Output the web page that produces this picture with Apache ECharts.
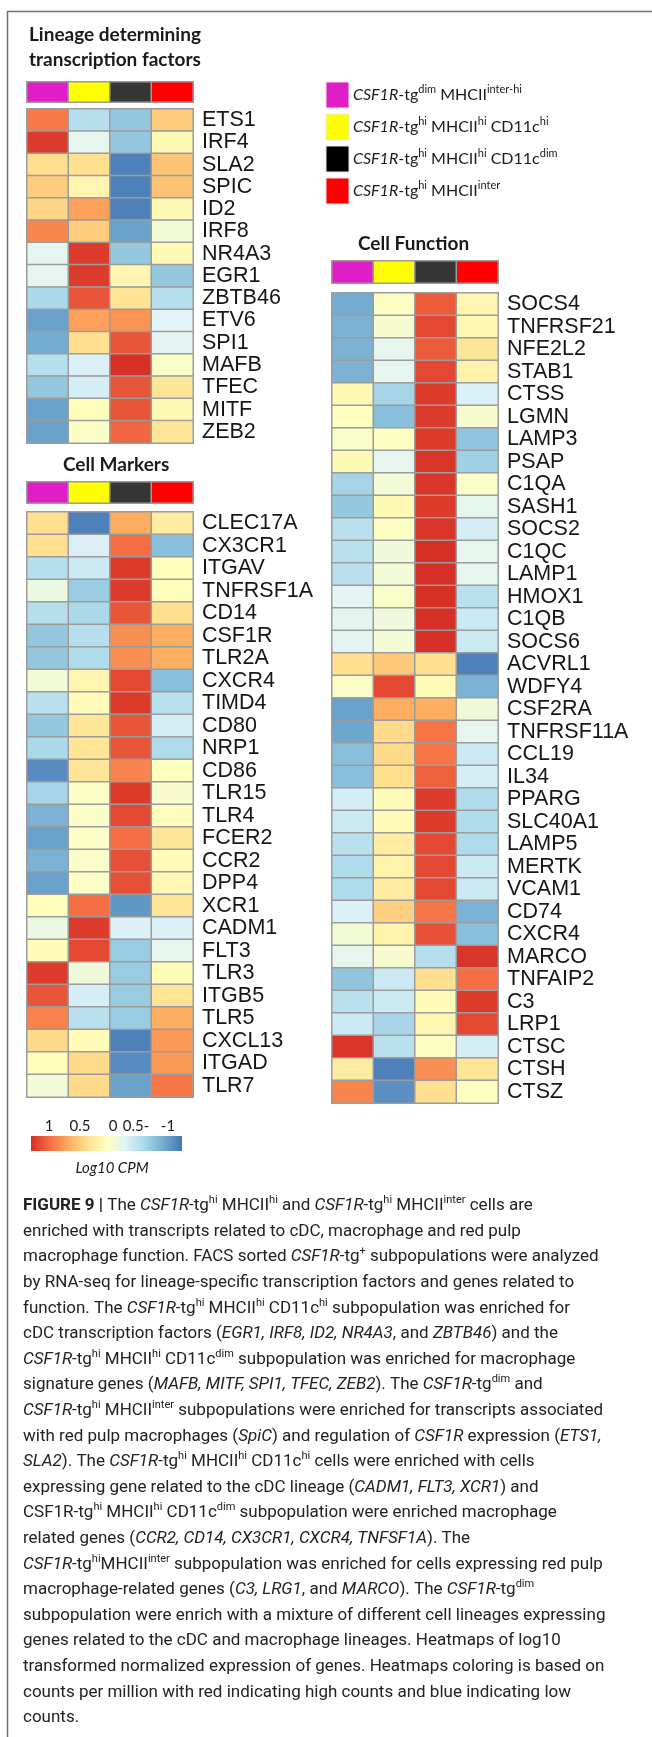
<!DOCTYPE html>
<html><head><meta charset="utf-8">
<script src="https://cdn.jsdelivr.net/npm/echarts@6/dist/echarts.min.js"></script>
<style>html,body{margin:0;padding:0;background:#fff}#c{width:652px;height:1737px}</style>
</head><body><div id="c"></div><script>
// ---------- DATA ----------
const groups = ['CSF1R-tg dim MHCII inter-hi', 'CSF1R-tg hi MHCII hi CD11c hi', 'CSF1R-tg hi MHCII hi CD11c dim', 'CSF1R-tg hi MHCII inter'];
const groupLabels = ['*CSF1R*-tg^dim^ MHCII^inter-hi^', '*CSF1R*-tg^hi^ MHCII^hi^ CD11c^hi^', '*CSF1R*-tg^hi^ MHCII^hi^ CD11c^dim^', '*CSF1R*-tg^hi^ MHCII^inter^'];

const lineageGenes = ['ETS1','IRF4','SLA2','SPIC','ID2','IRF8','NR4A3','EGR1','ZBTB46','ETV6','SPI1','MAFB','TFEC','MITF','ZEB2'];
const lineageValues = [
  [0.70,-0.45,-0.60,0.35],
  [0.95,-0.20,-0.60,0.05],
  [0.25,0.25,-0.95,0.40],
  [0.35,0.08,-0.95,0.40],
  [0.30,0.55,-0.95,0.05],
  [0.65,0.35,-0.80,-0.10],
  [-0.20,0.95,-0.60,0.05],
  [-0.20,0.95,0.08,-0.60],
  [-0.50,0.85,0.22,-0.45],
  [-0.80,0.55,0.60,-0.25],
  [-0.75,0.25,0.85,-0.22],
  [-0.45,-0.28,1.00,-0.05],
  [-0.60,-0.30,0.85,0.20],
  [-0.80,0.02,0.85,0.05],
  [-0.80,-0.03,0.78,0.20]
];

const markerGenes = ['CLEC17A','CX3CR1','ITGAV','TNFRSF1A','CD14','CSF1R','TLR2A','CXCR4','TIMD4','CD80','NRP1','CD86','TLR15','TLR4','FCER2','CCR2','DPP4','XCR1','CADM1','FLT3','TLR3','ITGB5','TLR5','CXCL13','ITGAD','TLR7'];
const markerValues = [
  [0.25,-0.95,0.50,0.15],
  [0.25,-0.28,0.75,-0.65],
  [-0.45,-0.35,0.95,0.02],
  [-0.15,-0.58,0.95,0.02],
  [-0.45,-0.50,0.85,0.25],
  [-0.60,-0.45,0.62,0.50],
  [-0.60,-0.48,0.62,0.50],
  [-0.10,0.08,0.90,-0.65],
  [-0.43,0.03,0.95,-0.43],
  [-0.60,0.20,0.85,-0.30],
  [-0.50,0.22,0.85,-0.48],
  [-0.90,0.22,0.66,0.00],
  [-0.52,-0.03,0.95,-0.07],
  [-0.72,-0.03,0.90,0.02],
  [-0.80,-0.03,0.75,0.20],
  [-0.72,-0.05,0.87,0.03],
  [-0.80,-0.03,0.87,0.06],
  [0.02,0.75,-0.85,0.20],
  [-0.15,0.95,-0.27,-0.27],
  [0.03,0.90,-0.58,-0.20],
  [0.95,-0.12,-0.58,0.03],
  [0.85,-0.30,-0.58,0.22],
  [0.67,-0.43,-0.58,0.50],
  [0.28,0.03,-0.95,0.58],
  [0.02,0.28,-0.90,0.58],
  [-0.10,0.28,-0.80,0.72]
];

const functionGenes = ['SOCS4','TNFRSF21','NFE2L2','STAB1','CTSS','LGMN','LAMP3','PSAP','C1QA','SASH1','SOCS2','C1QC','LAMP1','HMOX1','C1QB','SOCS6','ACVRL1','WDFY4','CSF2RA','TNFRSF11A','CCL19','IL34','PPARG','SLC40A1','LAMP5','MERTK','VCAM1','CD74','CXCR4','MARCO','TNFAIP2','C3','LRP1','CTSC','CTSH','CTSZ'];
const functionValues = [
  [-0.75,-0.02,0.82,0.08],
  [-0.72,-0.07,0.90,0.06],
  [-0.72,-0.20,0.82,0.20],
  [-0.72,-0.20,0.90,0.10],
  [0.05,-0.52,0.95,-0.27],
  [0.00,-0.65,0.95,-0.07],
  [-0.05,-0.02,0.95,-0.62],
  [0.05,-0.20,0.98,-0.55],
  [-0.52,-0.10,0.98,-0.04],
  [-0.60,0.05,0.95,-0.20],
  [-0.43,-0.02,0.98,-0.30],
  [-0.43,-0.12,1.00,-0.20],
  [-0.43,-0.10,1.00,-0.20],
  [-0.22,-0.05,1.00,-0.43],
  [-0.22,-0.13,1.00,-0.35],
  [-0.22,-0.10,1.00,-0.35],
  [0.25,0.37,0.25,-0.95],
  [-0.05,0.90,0.03,-0.72],
  [-0.80,0.50,0.50,-0.12],
  [-0.78,0.28,0.72,-0.20],
  [-0.65,0.28,0.72,-0.35],
  [-0.65,0.25,0.80,-0.30],
  [-0.30,0.03,0.95,-0.48],
  [-0.35,0.03,0.95,-0.48],
  [-0.43,0.15,0.90,-0.48],
  [-0.48,0.10,0.90,-0.35],
  [-0.48,0.15,0.90,-0.35],
  [-0.27,0.33,0.72,-0.72],
  [-0.10,0.10,0.87,-0.65],
  [-0.20,-0.07,-0.45,0.98],
  [-0.62,-0.35,0.25,0.75],
  [-0.43,-0.35,0.03,0.95],
  [-0.35,-0.52,0.08,0.90],
  [0.98,-0.43,-0.02,-0.30],
  [0.15,-0.95,0.62,0.20],
  [0.66,-0.88,0.25,0.00]
];

const scaleTicks = ['1','0.5','0','0.5-','-1'];
const scaleTitle = 'Log10 CPM';
const panelTitles = ['Lineage determining\ntranscription factors', 'Cell Markers', 'Cell Function'];

const captionLines = [
  '**FIGURE 9 |** The *CSF1R*-tg^hi^ MHCII^hi^ and *CSF1R*-tg^hi^ MHCII^inter^ cells are',
  'enriched with transcripts related to cDC, macrophage and red pulp',
  'macrophage function. FACS sorted *CSF1R*-tg^+^ subpopulations were analyzed',
  'by RNA-seq for lineage-specific transcription factors and genes related to',
  'function. The *CSF1R*-tg^hi^ MHCII^hi^ CD11c^hi^ subpopulation was enriched for',
  'cDC transcription factors (*EGR1, IRF8, ID2, NR4A3*, and *ZBTB46*) and the',
  '*CSF1R*-tg^hi^ MHCII^hi^ CD11c^dim^ subpopulation was enriched for macrophage',
  'signature genes (*MAFB, MITF, SPI1, TFEC, ZEB2*). The *CSF1R*-tg^dim^ and',
  '*CSF1R*-tg^hi^ MHCII^inter^ subpopulations were enriched for transcripts associated',
  'with red pulp macrophages (*SpiC*) and regulation of *CSF1R* expression (*ETS1,*',
  '*SLA2*). The *CSF1R*-tg^hi^ MHCII^hi^ CD11c^hi^ cells were enriched with cells',
  'expressing gene related to the cDC lineage (*CADM1, FLT3, XCR1*) and',
  'CSF1R-tg^hi^ MHCII^hi^ CD11c^dim^ subpopulation were enriched macrophage',
  'related genes (*CCR2, CD14, CX3CR1, CXCR4, TNFSF1A*). The',
  '*CSF1R*-tg^hi^MHCII^inter^ subpopulation was enriched for cells expressing red pulp',
  'macrophage-related genes (*C3, LRG1*, and *MARCO*). The *CSF1R*-tg^dim^',
  'subpopulation were enrich with a mixture of different cell lineages expressing',
  'genes related to the cDC and macrophage lineages. Heatmaps of log10',
  'transformed normalized expression of genes. Heatmaps coloring is based on',
  'counts per million with red indicating high counts and blue indicating low',
  'counts.'
];

// ---------- STYLES ----------
const palette = ['#4575b4','#74add1','#abd9e9','#e0f3f8','#ffffbf','#fee090','#fdae61','#f46d43','#d73027'];
const headerColors = ['#e01ec6','#ffff00','#373435','#ff0000'];
const legendColors = ['#e01ec6','#ffff00','#000000','#ff0000'];
const cellBorder = '#9c9c9c';
const labelFont = 'Liberation Sans';
const titleFont = 'Lato';

function toRich(s){
  return s.split(/(\*\*[^*]+\*\*|\*[^*]+\*|\^[^\^]+\^)/).filter(t => t).map(t => {
    if (t.startsWith('**')) return '{b|' + t.slice(2, -2) + '}';
    if (t.startsWith('*')) return '{i|' + t.slice(1, -1) + '}';
    if (t.startsWith('^')) return '{s|' + t.slice(1, -1) + '}';
    return '{n|' + t + '}';
  }).join('');
}

const chart = echarts.init(document.getElementById('c'), null, {renderer: 'canvas'});

const boxes = [
  {header: {left: 27, top: 82, width: 166, height: 20}, heat: {left: 27, top: 109, width: 166, height: 334}},
  {header: {left: 27, top: 482, width: 166, height: 21}, heat: {left: 27, top: 512, width: 166, height: 585}},
  {header: {left: 332, top: 261, width: 166, height: 22}, heat: {left: 332, top: 293, width: 166, height: 810}}
];
const panels = [
  {genes: lineageGenes, values: lineageValues},
  {genes: markerGenes, values: markerValues},
  {genes: functionGenes, values: functionValues}
];

const grid = [], xAxis = [], yAxis = [], series = [];
panels.forEach((p, k) => {
  const hb = boxes[k].header, bb = boxes[k].heat;
  grid.push(Object.assign({containLabel: false}, hb));
  xAxis.push({type: 'category', data: groups, gridIndex: grid.length - 1, show: false});
  yAxis.push({type: 'category', data: [''], gridIndex: grid.length - 1, show: false});
  series.push({
    type: 'heatmap', xAxisIndex: xAxis.length - 1, yAxisIndex: yAxis.length - 1,
    data: groups.map((g, i) => [i, 0, i]),
    itemStyle: {borderColor: cellBorder, borderWidth: 1.5},
    emphasis: {disabled: true}, silent: true
  });
  grid.push(Object.assign({containLabel: false}, bb));
  xAxis.push({type: 'category', data: groups, gridIndex: grid.length - 1, show: false});
  yAxis.push({
    type: 'category', data: p.genes, gridIndex: grid.length - 1, inverse: true, position: 'right',
    axisLine: {show: false}, axisTick: {show: false}, splitLine: {show: false},
    axisLabel: {fontSize: 21.5, fontFamily: labelFont, color: '#161616', margin: 9, interval: 0}
  });
  const data = [];
  p.values.forEach((row, r) => row.forEach((v, c) => data.push([c, r, v])));
  series.push({
    type: 'heatmap', xAxisIndex: xAxis.length - 1, yAxisIndex: yAxis.length - 1,
    data: data,
    itemStyle: {borderColor: cellBorder, borderWidth: 1.5},
    emphasis: {disabled: true}, silent: true
  });
});

const graphic = [];
graphic.push({type: 'line', shape: {x1: 7.5, y1: 11, x2: 7.5, y2: 1737}, style: {stroke: '#707070', lineWidth: 1.5}});
graphic.push({type: 'line', shape: {x1: 7, y1: 11.5, x2: 652, y2: 11.5}, style: {stroke: '#707070', lineWidth: 1.5}});
const tFont = {fontFamily: titleFont, fontWeight: 'bold', fontSize: 19, fill: '#1a1a1a'};
graphic.push({type: 'text', left: 29, top: 22, style: Object.assign({text: panelTitles[0], lineHeight: 25}, tFont)});
graphic.push({type: 'text', left: 63, top: 455, style: Object.assign({text: panelTitles[1]}, tFont)});
graphic.push({type: 'text', left: 358, top: 234, style: Object.assign({text: panelTitles[2]}, tFont)});

const legRich = {
  n: {fontFamily: titleFont, fontSize: 16, fill: '#1a1a1a', lineHeight: 22},
  i: {fontFamily: titleFont, fontSize: 16, fontStyle: 'italic', fill: '#1a1a1a', lineHeight: 22},
  s: {fontFamily: titleFont, fontSize: 11, fill: '#1a1a1a', verticalAlign: 'top', lineHeight: 11},
  b: {fontFamily: titleFont, fontSize: 16, fontWeight: 'bold', fill: '#1a1a1a', lineHeight: 22}
};
groupLabels.forEach((g, i) => {
  const y = 82 + i * 32;
  graphic.push({type: 'rect', shape: {x: 326, y: y, width: 23, height: 26}, style: {fill: legendColors[i], stroke: '#e8e8e8', lineWidth: 1}});
  graphic.push({type: 'text', x: 353, y: y + 13, style: {text: toRich(g), rich: legRich, verticalAlign: 'middle', align: 'left'}});
});

const grad = palette.slice().reverse().map((c, i, a) => ({offset: i / (a.length - 1), color: c}));
graphic.push({type: 'rect', shape: {x: 31, y: 1136, width: 151, height: 15},
  style: {fill: new echarts.graphic.LinearGradient(0, 0, 1, 0, grad)}});
const tickX = [49, 80, 113, 136, 168];
scaleTicks.forEach((t, i) => {
  graphic.push({type: 'text', x: tickX[i], y: 1126, style: {text: t, fontFamily: titleFont, fontSize: 15, fill: '#1a1a1a', align: 'center', verticalAlign: 'middle'}});
});
graphic.push({type: 'text', x: 112, y: 1168, style: {text: scaleTitle, fontFamily: titleFont, fontStyle: 'italic', fontSize: 15, fill: '#1a1a1a', align: 'center', verticalAlign: 'middle'}});

const capSize = 17, capFont = 'Roboto';
const capRich = {
  n: {fontFamily: capFont, fontSize: capSize, fill: '#222', lineHeight: 22},
  i: {fontFamily: capFont, fontSize: capSize, fontStyle: 'italic', fill: '#222', lineHeight: 22},
  b: {fontFamily: capFont, fontSize: capSize, fontWeight: 'bold', fill: '#222', lineHeight: 22},
  s: {fontFamily: capFont, fontSize: 11, fill: '#222', verticalAlign: 'top', lineHeight: 11}
};
captionLines.forEach((l, i) => {
  graphic.push({type: 'text', x: 23, y: 1206 + i * 25.6, style: {text: toRich(l), rich: capRich, verticalAlign: 'middle', align: 'left'}});
});

chart.setOption({
  animation: false,
  backgroundColor: '#ffffff',
  grid, xAxis, yAxis, series,
  visualMap: [
    {type: 'continuous', min: -1, max: 1, seriesIndex: [1, 3, 5], show: false, inRange: {color: palette}},
    {type: 'piecewise', seriesIndex: [0, 2, 4], show: false, pieces: headerColors.map((c, i) => ({value: i, color: c}))}
  ],
  graphic
});
</script></body></html>
